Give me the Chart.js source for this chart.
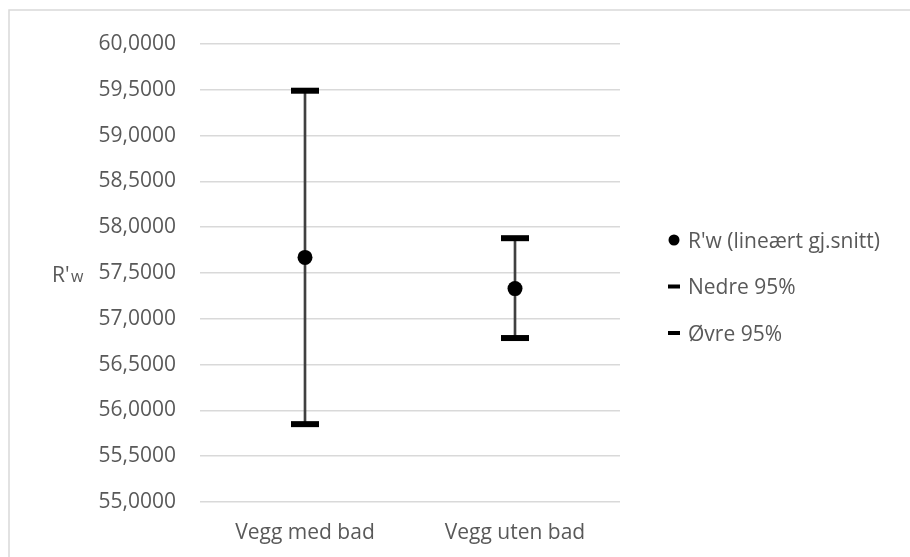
<!DOCTYPE html>
<html lang="no">
<head>
<meta charset="utf-8">
<title>R'w – vegg med og uten bad</title>
<script src="https://cdn.jsdelivr.net/npm/chart.js@4.4.1/dist/chart.umd.min.js"></script>
<style>
  html, body { margin: 0; padding: 0; background: #ffffff; overflow: hidden; }
  #wrap { position: relative; width: 910px; height: 557px; }
  canvas { display: block; }
</style>
</head>
<body>
<div id="wrap"><canvas id="chart" width="910" height="557"></canvas></div>
<script>
// Categories and measured values (R'w in dB)
const categories = ['Vegg med bad', 'Vegg uten bad'];
const meanValues = [57.67, 57.33];   // R'w (lineært gj.snitt)
const lower95 = [55.85, 56.79];      // Nedre 95%
const upper95 = [59.49, 57.88];      // Øvre 95%
const seriesNames = ["R'w (lineært gj.snitt)", 'Nedre 95%', 'Øvre 95%'];
const yMin = 55;
const yMax = 60;
const yStep = 0.5;

const FONT = '"Open Sans", "Liberation Sans", sans-serif';
const TEXT = '#595959';
const GRID = '#d9d9d9';

// Outer frame (top and left edge) behind the chart
const framePlugin = {
  id: 'frame',
  beforeDraw(chart) {
    const ctx = chart.ctx;
    ctx.save();
    ctx.strokeStyle = GRID;
    ctx.lineWidth = 1.5;
    ctx.beginPath();
    ctx.moveTo(9, chart.height);
    ctx.lineTo(9, 10);
    ctx.lineTo(chart.width, 10);
    ctx.stroke();
    ctx.restore();
  }
};

// Y axis title "R'w" with a smaller w, and the legend on the right
const annotatePlugin = {
  id: 'annotate',
  afterDraw(chart) {
    const ctx = chart.ctx;
    const area = chart.chartArea;
    ctx.save();
    ctx.fillStyle = TEXT;
    ctx.textBaseline = 'alphabetic';
    ctx.textAlign = 'left';

    const titleBase = (area.top + area.bottom) / 2 + 9;
    ctx.font = '21px ' + FONT;
    ctx.fillText("R'", 52, titleBase);
    const rw = ctx.measureText("R'").width;
    ctx.font = '16px ' + FONT;
    ctx.fillText('w', 52 + rw + 1.5, titleBase);

    // Legend built from the datasets that carry a label in seriesNames
    const items = chart.data.datasets.filter(d => seriesNames.includes(d.label));
    const rowCenters = [240, 286.5, 333];
    items.forEach((ds, i) => {
      const cy = rowCenters[i];
      ctx.fillStyle = '#000000';
      if (ds.pointStyle === 'circle') {
        ctx.beginPath();
        ctx.arc(674, cy, 5.5, 0, Math.PI * 2);
        ctx.fill();
      } else {
        ctx.fillRect(668, cy - 2, 12, 4);
      }
      ctx.fillStyle = TEXT;
      ctx.font = '21px ' + FONT;
      ctx.fillText(ds.label, 688, cy + 7.5);
    });
    ctx.restore();
  }
};

const errorRanges = categories.map((c, i) => [lower95[i], upper95[i]]);

new Chart(document.getElementById('chart'), {
  type: 'bar',
  data: {
    labels: categories,
    datasets: [
      {
        type: 'line',
        label: seriesNames[0],
        data: meanValues,
        showLine: false,
        pointStyle: 'circle',
        pointRadius: 7.5,
        pointBackgroundColor: '#000000',
        pointBorderWidth: 0,
        order: 0
      },
      {
        type: 'line',
        label: seriesNames[1],
        data: lower95,
        showLine: false,
        pointStyle: 'line',
        pointRadius: 14,
        pointBorderColor: '#000000',
        pointBorderWidth: 6,
        order: 0
      },
      {
        type: 'line',
        label: seriesNames[2],
        data: upper95,
        showLine: false,
        pointStyle: 'line',
        pointRadius: 14,
        pointBorderColor: '#000000',
        pointBorderWidth: 6,
        order: 0
      },
      {
        type: 'bar',
        label: 'interval',
        data: errorRanges,
        backgroundColor: '#404040',
        borderWidth: 0,
        barThickness: 2,
        order: 10
      }
    ]
  },
  options: {
    responsive: false,
    animation: false,
    devicePixelRatio: 1,
    events: [],
    layout: { padding: { top: 44, right: 290, bottom: 0, left: 0 } },
    plugins: {
      legend: { display: false },
      tooltip: { enabled: false },
      title: { display: false }
    },
    scales: {
      x: {
        offset: true,
        grid: { display: false, drawTicks: false },
        border: { display: false },
        ticks: {
          color: TEXT,
          font: { family: FONT, size: 21 },
          padding: 18,
          maxRotation: 0
        },
        afterFit(scale) { scale.height = 55; }
      },
      y: {
        min: yMin,
        max: yMax,
        grid: { color: GRID, lineWidth: 1.5, drawTicks: false },
        border: { display: false },
        ticks: {
          stepSize: yStep,
          color: TEXT,
          font: { family: FONT, size: 21 },
          padding: 24,
          callback: v => Number(v).toFixed(4).replace('.', ',')
        },
        afterFit(scale) { scale.width = 200; }
      }
    }
  },
  plugins: [framePlugin, annotatePlugin]
});
</script>
</body>
</html>
